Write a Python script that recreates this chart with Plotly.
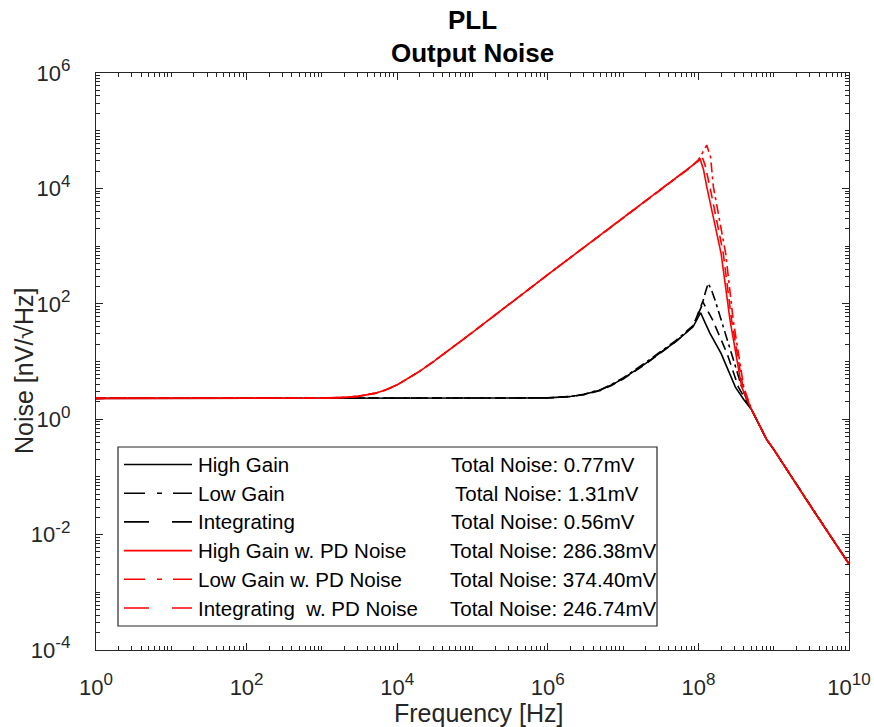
import plotly.graph_objects as go

# frequency [Hz] / noise [nV/sqrt(Hz)]
HG_F = [1, 10, 100, 1e3, 1e4, 1e5, 1e6, 2e6, 3e6, 5e6, 7e6, 1e7, 1.5e7, 2e7, 3e7, 5e7, 8.5e7, 1e8, 1.07e8,
        1.2e8, 1.42e8, 2.0e8, 3.1e8, 4.0e8, 5.1e8, 8.1e8, 1e9, 3e9, 1e10]
HG_V = [2.3, 2.3, 2.3, 2.3, 2.3, 2.3, 2.34, 2.47, 2.67, 3.2, 3.9, 5.05, 7.1, 9.3, 13.7, 22, 40, 58, 70,
        50, 31, 13.8, 3.6, 2.2, 1.45, 0.44, 0.3, 0.033, 0.0031]

LG_F = [1, 10, 100, 1e3, 1e4, 1e5, 1e6, 2e6, 3e6, 5e6, 7e6, 1e7, 1.5e7, 2e7, 3e7, 5e7, 8.5e7, 1.1e8, 1.25e8,
        1.35e8, 1.5e8, 1.66e8, 2.75e8, 3.76e8, 4.5e8, 5.1e8, 8.1e8, 1e9, 3e9, 1e10]
LG_V = [2.3, 2.3, 2.3, 2.3, 2.3, 2.3, 2.34, 2.48, 2.7, 3.25, 4.0, 5.2, 7.3, 9.6, 14.2, 23, 42, 90, 165,
        227, 170, 117, 13.8, 3.6, 2.0, 1.45, 0.44, 0.3, 0.033, 0.0031]

INT_F = [1, 10, 100, 1e3, 1e4, 1e5, 1e6, 2e6, 3e6, 5e6, 7e6, 1e7, 1.5e7, 2e7, 3e7, 5e7, 8.5e7, 1e8, 1.14e8,
         1.3e8, 1.55e8, 2.4e8, 3.4e8, 4.3e8, 5.1e8, 8.1e8, 1e9, 3e9, 1e10]
INT_V = [2.3, 2.3, 2.3, 2.3, 2.3, 2.3, 2.34, 2.47, 2.66, 3.15, 3.85, 4.95, 7.0, 9.1, 13.5, 22, 41, 70, 109,
         80, 52, 13.8, 3.6, 2.1, 1.45, 0.44, 0.3, 0.033, 0.0031]

HGR_F = [1, 10, 100, 1e3, 2e3, 3e3, 5e3, 7e3, 1e4, 1.5e4, 2e4, 3e4, 5e4, 7e4, 1e5, 1e6, 1e7, 5e7, 8e7,
         1e8, 1.05e8, 1.17e8, 1.29e8, 2.0e8, 2.63e8, 3.76e8, 4.5e8, 5.1e8, 8.1e8, 1e9, 3e9, 1e10]
HGR_V = [2.3, 2.3, 2.3, 2.32, 2.39, 2.49, 2.8, 3.21, 3.94, 5.32, 6.8, 9.87, 16.2, 22.5, 32, 320, 3100, 1.5e4, 2.35e4,
         3.0e4, 3.3e4, 2.1e4, 1.07e4, 750, 52, 3.6, 2.1, 1.45, 0.44, 0.3, 0.033, 0.0031]

LGR_F = [1, 10, 100, 1e3, 2e3, 3e3, 5e3, 7e3, 1e4, 1.5e4, 2e4, 3e4, 5e4, 7e4, 1e5, 1e6, 1e7, 5e7, 8e7,
         1e8, 1.15e8, 1.29e8, 1.45e8, 1.58e8, 2.3e8, 2.9e8, 4.0e8, 4.7e8, 5.1e8, 8.1e8, 1e9, 3e9, 1e10]
LGR_V = [2.3, 2.3, 2.3, 2.32, 2.39, 2.49, 2.8, 3.21, 3.94, 5.32, 6.8, 9.87, 16.2, 22.5, 32, 320, 3100, 1.5e4, 2.4e4,
         3.1e4, 4.2e4, 5.6e4, 3.5e4, 1.07e4, 750, 52, 3.6, 2.0, 1.45, 0.44, 0.3, 0.033, 0.0031]

INTR_F = [1, 10, 100, 1e3, 2e3, 3e3, 5e3, 7e3, 1e4, 1.5e4, 2e4, 3e4, 5e4, 7e4, 1e5, 1e6, 1e7, 5e7, 8e7,
          1e8, 1.1e8, 1.22e8, 1.42e8, 2.14e8, 2.76e8, 3.9e8, 4.6e8, 5.1e8, 8.1e8, 1e9, 3e9, 1e10]
INTR_V = [2.3, 2.3, 2.3, 2.32, 2.39, 2.49, 2.8, 3.21, 3.94, 5.32, 6.8, 9.87, 16.2, 22.5, 32, 320, 3100, 1.5e4, 2.35e4,
          3.1e4, 3.8e4, 2.6e4, 1.07e4, 750, 52, 3.6, 2.0, 1.45, 0.44, 0.3, 0.033, 0.0031]

NAMES = ["High Gain", "Low Gain", "Integrating", "High Gain w. PD Noise",
         "Low Gain w. PD Noise", "Integrating  w. PD Noise"]
TOTALS = ["Total Noise: 0.77mV", "Total Noise: 1.31mV", "Total Noise: 0.56mV",
          "Total Noise: 286.38mV", "Total Noise: 374.40mV", "Total Noise: 246.74mV"]

X_EXP = list(range(0, 11, 2))
Y_EXP = list(range(-4, 7, 2))
X_TICKS = [10.0 ** p for p in X_EXP]
Y_TICKS = [10.0 ** p for p in Y_EXP]

SERIES = [(HG_F, HG_V), (LG_F, LG_V), (INT_F, INT_V),
          (HGR_F, HGR_V), (LGR_F, LGR_V), (INTR_F, INTR_V)]
COLORS = ["black", "black", "black", "#ff0000", "#ff0000", "#ff0000"]
DATA_DASH = ["solid", "10px,4px,3px,4px", "10px,6px"] * 2
LEG_DASH = ["solid", "21px,12px,5px,11px", "25px,23px"] * 2
AX = "#262626"
FONT = "Arial, Liberation Sans, sans-serif"


def minor_vals(lo, hi, majors):
    vals = []
    for p in range(lo, hi):
        for k in range(1, 10):
            v = k * 10.0 ** p
            if v not in majors:
                vals.append(v)
    return vals


def pow_label(p):
    return "10<sup><span style='font-size:17px'>%d</span></sup>" % p


fig = go.Figure()
for (f, v), c, d, n in zip(SERIES, COLORS, DATA_DASH, NAMES):
    fig.add_trace(go.Scatter(x=f, y=v, mode="lines", name=n,
                             line=dict(color=c, width=1.6, dash=d)))

axis_common = dict(
    type="log", showgrid=False, zeroline=False, showline=True, linecolor=AX, linewidth=1.3,
    mirror="ticks", ticks="inside", ticklen=7, tickwidth=1.2, tickcolor=AX, automargin=False,
    tickfont=dict(family=FONT, size=22, color=AX),
)
fig.update_xaxes(
    **axis_common, range=[0, 10], tickmode="array", tickvals=X_TICKS,
    ticktext=[pow_label(p) for p in X_EXP], ticklabelstandoff=17,
    minor=dict(tickmode="array", tickvals=minor_vals(0, 10, X_TICKS), ticks="inside",
               ticklen=4, tickwidth=1, tickcolor=AX),
)
fig.update_yaxes(
    **axis_common, range=[-4, 6], tickmode="array", tickvals=Y_TICKS,
    ticktext=[pow_label(p) for p in Y_EXP], ticklabelstandoff=20,
    minor=dict(tickmode="array", tickvals=minor_vals(-4, 6, Y_TICKS), ticks="inside",
               ticklen=4, tickwidth=1, tickcolor=AX),
)

# legend box drawn by hand: two text columns like the original
L, R, T, B = 96, 849, 73, 650


def px(x):
    return (x - L) / (R - L)


def py(y):
    return (B - y) / (B - T)


shapes = [dict(type="rect", xref="paper", yref="paper", x0=px(118), x1=px(657),
               y0=py(626), y1=py(447), line=dict(color=AX, width=1.2), fillcolor="white", layer="above")]
annotations = []
row_y = [464.5, 493.2, 521.9, 550.6, 579.3, 608]
tot_x = [449, 453, 449, 448, 448, 448]
for i in range(6):
    yy = py(row_y[i])
    shapes.append(dict(type="line", xref="paper", yref="paper", x0=px(124), x1=px(192), y0=yy, y1=yy,
                       line=dict(color=COLORS[i], width=1.6, dash=LEG_DASH[i]), layer="above"))
    annotations.append(dict(text=NAMES[i], xref="paper", yref="paper", x=px(196), y=yy,
                            xanchor="left", yanchor="middle", showarrow=False,
                            font=dict(family=FONT, size=20.5, color="black")))
    annotations.append(dict(text=TOTALS[i], xref="paper", yref="paper", x=px(tot_x[i]), y=yy,
                            xanchor="left", yanchor="middle", showarrow=False,
                            font=dict(family=FONT, size=20.5, color="black")))

for txt, yc in [("<b>PLL</b>", 20), ("<b>Output Noise</b>", 53)]:
    annotations.append(dict(text=txt, xref="paper", yref="paper", x=px(472), y=py(yc),
                            xanchor="center", yanchor="middle", showarrow=False,
                            font=dict(family=FONT, size=26, color="black")))

# axis titles
annotations.append(dict(text="Frequency [Hz]", xref="paper", yref="paper", x=px(479), y=py(713),
                        xanchor="center", yanchor="middle", showarrow=False,
                        font=dict(family=FONT, size=25, color=AX)))
annotations.append(dict(text="Noise [nV/√Hz]", xref="paper", yref="paper", x=px(24), y=py(371),
                        xanchor="center", yanchor="middle", showarrow=False, textangle=-90,
                        font=dict(family=FONT, size=25, color=AX)))

fig.update_layout(
    width=874, height=727,
    plot_bgcolor="white", paper_bgcolor="white",
    margin=dict(l=L, r=874 - R, t=T, b=727 - B),
    showlegend=False,
    shapes=shapes, annotations=annotations,
)

fig.write_html("out.html", config={"displayModeBar": False},
               post_script="document.body.style.margin='0';")
